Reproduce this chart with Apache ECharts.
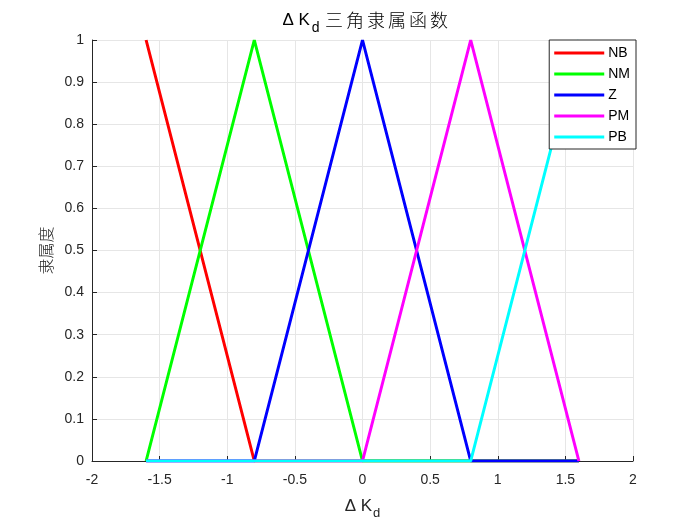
<!DOCTYPE html>
<html>
<head>
<meta charset="utf-8">
<script src="https://cdn.jsdelivr.net/npm/echarts@6/dist/echarts.min.js"></script>
<style>html,body{margin:0;padding:0;background:#fff}#c{width:700px;height:525px}</style>
</head>
<body>
<div id="c"></div>
<script>
var names = ['NB', 'NM', 'Z', 'PM', 'PB'];
var colors = ['#ff0000', '#00ff00', '#0000ff', '#ff00ff', '#00ffff'];
var NB = [[-1.6, 1], [-0.8, 0], [1.6, 0]];
var NM = [[-1.6, 0], [-0.8, 1], [0, 0], [1.6, 0]];
var Z  = [[-1.6, 0], [-0.8, 0], [0, 1], [0.8, 0], [1.6, 0]];
var PM = [[-1.6, 0], [0, 0], [0.8, 1], [1.6, 0]];
var PB = [[-1.6, 0], [0.8, 0], [1.6, 1]];
var seriesData = [NB, NM, Z, PM, PB];
var titleCJK = '三角隶属函数';
var yName = '隶属度';

var chart = echarts.init(document.getElementById('c'));
var font = 'Liberation Sans, Arial, sans-serif';
var cjkFont = 'Noto Sans CJK SC, sans-serif';
var titleText = '{a|Δ K}{b|d}' + titleCJK.split('').map(function (ch) { return '{c|' + ch + '}'; }).join('');
chart.setOption({
  animation: false,
  backgroundColor: '#fff',
  title: {
    text: titleText,
    left: 361, top: 0, textAlign: 'center',
    textStyle: {
      fontWeight: 'normal',
      rich: {
        a: {fontSize: 17, fontFamily: font, fontWeight: 'normal', color: '#000', lineHeight: 30, padding: [0, 1, 0, 0]},
        b: {fontSize: 14, fontFamily: font, fontWeight: 'normal', color: '#000', lineHeight: 12, verticalAlign: 'bottom', padding: [0, 4, 0, 1]},
        c: {fontSize: 18, fontFamily: cjkFont, fontWeight: 300, color: '#000', lineHeight: 30, padding: [0, 1.5, 0, 1.5]}
      }
    }
  },
  legend: {
    data: names,
    orient: 'vertical',
    right: 64, top: 40,
    backgroundColor: '#fff',
    borderColor: '#262626', borderWidth: 1, borderRadius: 0,
    padding: [6, 6, 5, 5],
    itemGap: 7,
    icon: 'rect', itemWidth: 50, itemHeight: 3,
    textStyle: {fontFamily: font, fontSize: 14, color: '#000', padding: [0, 0, 0, -1]},
    z: 10
  },
  grid: {left: 92, right: 67, top: 40, bottom: 61, containLabel: false},
  xAxis: {
    type: 'value', min: -2, max: 2, interval: 0.5,
    name: '{a|Δ K}{b|d}', nameLocation: 'middle', nameGap: 31,
    nameTextStyle: {
      rich: {
        a: {fontSize: 17, fontFamily: font, color: '#262626', lineHeight: 28},
        b: {fontSize: 13, fontFamily: font, color: '#262626', lineHeight: 12, verticalAlign: 'bottom', padding: [0, 0, 0, 1]}
      }
    },
    axisLine: {show: true, onZero: false, lineStyle: {color: '#262626', width: 1}},
    axisTick: {show: true, inside: true, length: 5, lineStyle: {color: '#262626'}},
    axisLabel: {fontFamily: font, fontSize: 14, color: '#262626', margin: 12,
      formatter: function (v) { return String(Math.round(v * 10) / 10); }},
    splitLine: {show: true, lineStyle: {color: '#e6e6e6', width: 1}}
  },
  yAxis: {
    type: 'value', min: 0, max: 1, interval: 0.1,
    name: yName, nameLocation: 'middle', nameGap: 38, nameRotate: 90,
    nameTextStyle: {fontFamily: cjkFont, fontWeight: 300, fontSize: 16, color: '#262626'},
    axisLine: {show: true, onZero: false, lineStyle: {color: '#262626', width: 1}},
    axisTick: {show: true, inside: true, length: 5, lineStyle: {color: '#262626'}},
    axisLabel: {fontFamily: font, fontSize: 14, color: '#262626', margin: 8,
      formatter: function (v) { return String(Math.round(v * 10) / 10); }},
    splitLine: {show: true, lineStyle: {color: '#e6e6e6', width: 1}}
  },
  series: names.map(function (n, i) {
    return {
      name: n, type: 'line', data: seriesData[i],
      showSymbol: false, symbol: 'none',
      lineStyle: {color: colors[i], width: 3},
      itemStyle: {color: colors[i]},
      z: 2 + i
    };
  })
});
</script>
</body>
</html>
